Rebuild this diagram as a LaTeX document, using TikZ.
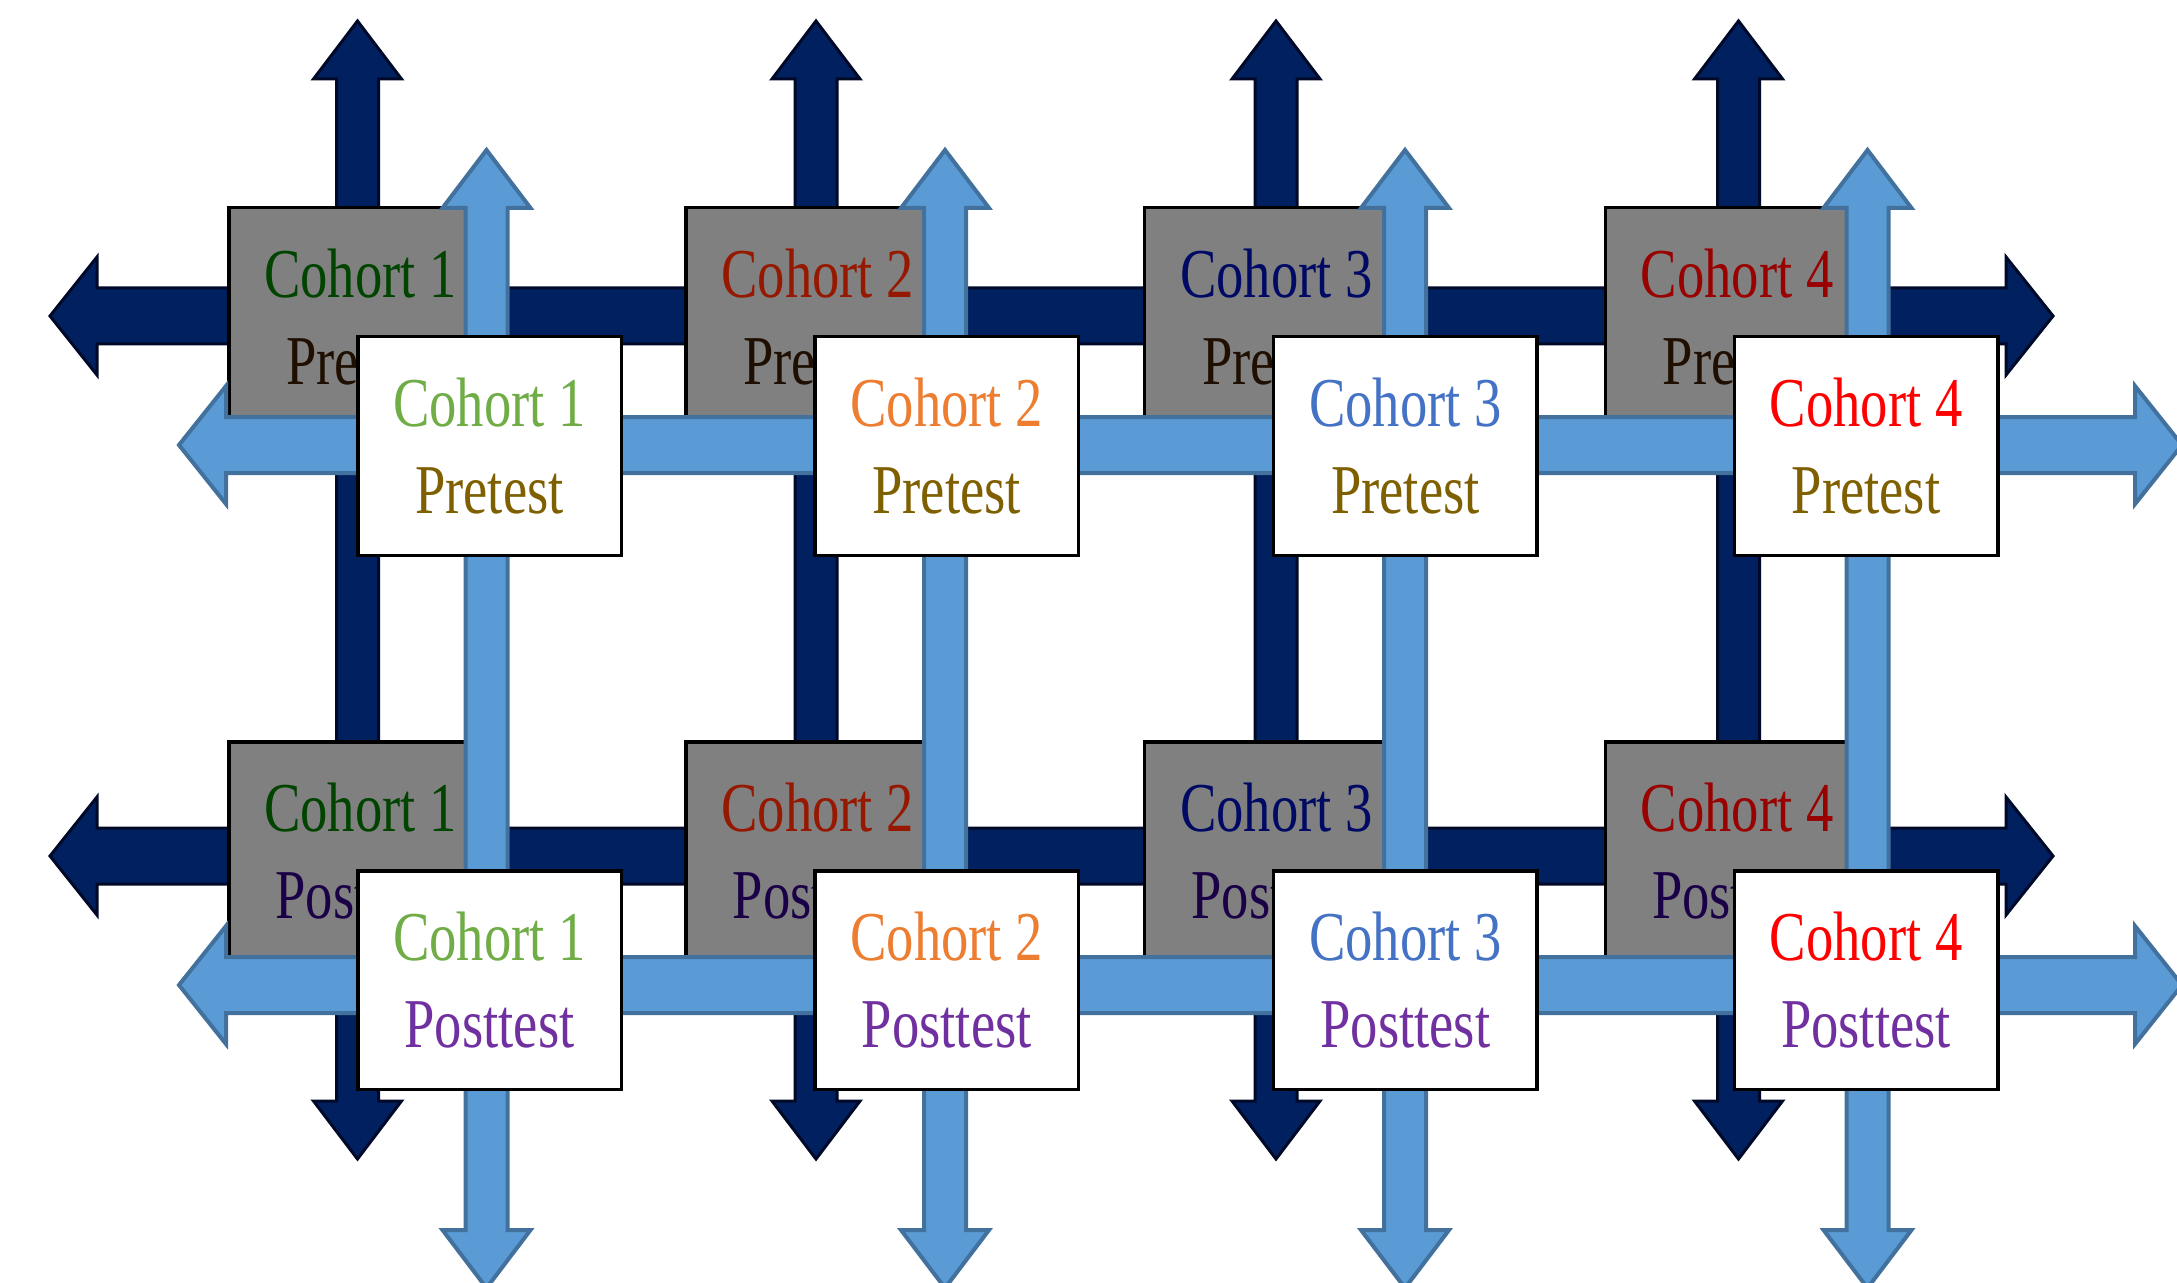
\documentclass[tikz,border=0pt]{standalone}
\usepackage{fontspec}
\newfontfamily\boxfont{Liberation Serif}[FakeStretch=0.78]
\definecolor{navy}{HTML}{002060}
\definecolor{navyline}{HTML}{000A28}
\definecolor{lblue}{HTML}{5B9BD5}
\definecolor{lbline}{HTML}{41719C}
\definecolor{boxgray}{HTML}{808080}
\definecolor{cA}{HTML}{70AD47}
\definecolor{cB}{HTML}{ED7D31}
\definecolor{cC}{HTML}{4472C4}
\definecolor{cD}{HTML}{FF0000}
\definecolor{pre}{HTML}{7F6000}
\definecolor{post}{HTML}{7030A0}
\definecolor{gA}{HTML}{004400}
\definecolor{gB}{HTML}{961800}
\definecolor{gC}{HTML}{000A64}
\definecolor{gD}{HTML}{990000}
\definecolor{gpre}{HTML}{1E0F00}
\definecolor{gpost}{HTML}{1A0046}
% horizontal double block arrow: style, y, x left tip, x right tip
\newcommand{\hblock}[4]{%
  \path[#1] (#3,#2) -- ++(47,-59) -- ++(0,31) -- ({#4-47},{#2-28}) -- ++(0,-31)
    -- (#4,#2) -- ++(-47,59) -- ++(0,-31) -- ({#3+47},{#2+28}) -- ++(0,31) -- cycle;}
% vertical double block arrow: style, x, y top tip, y bottom tip
\newcommand{\vblock}[4]{%
  \path[#1] (#2,#3) -- ++(44,58) -- ++(-23,0) -- ({#2+21},{#4-58}) -- ++(23,0)
    -- (#2,#4) -- ++(-44,-58) -- ++(23,0) -- ({#2-21},{#3+58}) -- ++(-23,0) -- cycle;}
\tikzset{
  darkarrow/.style={fill=navy, draw=navyline, line width=1.5pt, line join=miter},
  lightarrow/.style={fill=lblue, draw=lbline, line width=2pt, line join=miter},
  greybox/.style={draw=black, fill=boxgray, line width=1.75pt,
    minimum width=131.75pt, minimum height=109.25pt, inner sep=0pt,
    align=center, font=\boxfont\fontsize{35}{43.5}\selectfont},
  whitebox/.style={greybox, fill=white},
}
\begin{document}
\begin{tikzpicture}[x=0.5pt,y=-0.5pt]
\useasboundingbox (0,0) rectangle (2177,1283);
\clip (0,0) rectangle (2177,1283);
% dark arrows
\foreach \y in {316,856} {\hblock{darkarrow}{\y}{50}{2053}}
\foreach \x in {357.5,816,1276,1738.5} {\vblock{darkarrow}{\x}{21}{1159}}
% grey boxes
\foreach \i/\x/\ga in {1/489.5/gA,2/946.7/gB,3/1405.4/gC,4/1866/gD} {
  \node[greybox] (gpre\i) at ({\x-129},{446-129}) {{\color{\ga}Cohort \i}\\{\color{gpre}Pretest}};
  \node[greybox] (gpost\i) at ({\x-129},{980-129}) {{\color{\ga}Cohort \i}\\{\color{gpost}Posttest}};
}
% light arrows
\foreach \y in {445,985} {\hblock{lightarrow}{\y}{179}{2182}}
\foreach \x in {486.5,945,1405,1867.5} {\vblock{lightarrow}{\x}{150}{1288}}
% white boxes
\foreach \i/\x/\ca in {1/489.5/cA,2/946.7/cB,3/1405.4/cC,4/1866/cD} {
  \node[whitebox] (wpre\i) at (\x,446) {{\color{\ca}Cohort \i}\\{\color{pre}Pretest}};
  \node[whitebox] (wpost\i) at (\x,980) {{\color{\ca}Cohort \i}\\{\color{post}Posttest}};
}
\end{tikzpicture}
\end{document}
